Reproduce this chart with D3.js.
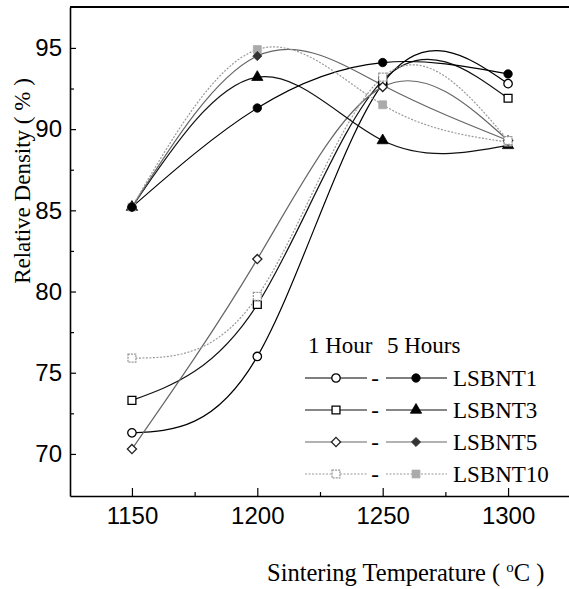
<!DOCTYPE html>
<html>
<head>
<meta charset="utf-8">
<script src="https://cdn.jsdelivr.net/npm/d3@7"></script>
<style>
  body { margin: 0; background: #fff; }
  svg { display: block; }
</style>
</head>
<body>
<div id="main"></div>
<script>
// ---------------- data -------------------------------------//

let temps = [1150, 1200, 1250, 1300];
let samples = ['LSBNT1', 'LSBNT3', 'LSBNT5', 'LSBNT10'];

// relative density (%) after 1 hour / 5 hours of sintering
let lsbnt1_1h = [71.3, 76.0, 92.8, 92.8];
let lsbnt1_5h = [85.2, 91.3, 94.1, 93.4];
let lsbnt3_1h = [73.3, 79.2, 93.0, 91.9];
let lsbnt3_5h = [85.2, 93.2, 89.3, 89.0];
let lsbnt5_1h = [70.3, 82.0, 92.6, 89.3];
let lsbnt5_5h = [85.2, 94.5, 92.7, 89.3];
let lsbnt10_1h = [75.9, 79.7, 93.2, 89.3];
let lsbnt10_5h = [85.2, 94.9, 91.5, 89.2];

let xTicks = [1150, 1200, 1250, 1300];
let xMinor = [1175, 1225, 1275];
let yTicks = [70, 75, 80, 85, 90, 95];
let yMinor = [72.5, 77.5, 82.5, 87.5, 92.5];

// ---------------- global formatting vars -----------------//

let width = 569;
let height = 589;
let tickFont = 'Arial, "Liberation Sans", sans-serif';
let textFont = '"Times New Roman", "Liberation Serif", serif';

let svg = d3.select('#main')
  .append('svg')
  .attr('width', width)
  .attr('height', height);

let x = d3.scaleLinear().domain([1125.3, 1324.7]).range([70, 570]);
let y = d3.scaleLinear().domain([67.41, 97.52]).range([496, 7]);

// per-sample styles
let styles = {
  LSBNT1: {line: '#000', dash: null, open: 'circle', filled: 'circle', mark: '#000', fill5: '#000'},
  LSBNT3: {line: '#111', dash: null, open: 'square', filled: 'triangle', mark: '#000', fill5: '#000'},
  LSBNT5: {line: '#666', dash: null, open: 'diamond', filled: 'diamond', mark: '#222', fill5: '#333'},
  LSBNT10: {line: '#9a9a9a', dash: '2,1.5', open: 'square', filled: 'square', mark: '#999', fill5: '#aaa'}
};

let series = [
  {name: 'LSBNT1', hours: 1, values: lsbnt1_1h},
  {name: 'LSBNT3', hours: 1, values: lsbnt3_1h},
  {name: 'LSBNT5', hours: 1, values: lsbnt5_1h},
  {name: 'LSBNT10', hours: 1, values: lsbnt10_1h},
  {name: 'LSBNT1', hours: 5, values: lsbnt1_5h},
  {name: 'LSBNT3', hours: 5, values: lsbnt3_5h},
  {name: 'LSBNT5', hours: 5, values: lsbnt5_5h},
  {name: 'LSBNT10', hours: 5, values: lsbnt10_5h}
];

function symbolPath(shape) {
  if (shape === 'circle') return d3.symbol(d3.symbolCircle, 56)();
  if (shape === 'square') return d3.symbol(d3.symbolSquare, 62)();
  if (shape === 'triangle') return d3.symbol(d3.symbolTriangle, 55)();
  return d3.symbol(d3.symbolSquare, 42)();
}

function drawMarker(g, d, cx, cy) {
  let st = styles[d.name];
  let shape = d.hours === 1 ? st.open : st.filled;
  g.append('path')
    .attr('d', symbolPath(shape))
    .attr('transform', `translate(${cx},${cy})` + (shape === 'diamond' ? ' rotate(45)' : ''))
    .attr('fill', d.hours === 1 ? '#fff' : st.fill5)
    .attr('stroke', d.hours === 1 ? st.mark : st.fill5)
    .attr('stroke-width', d.hours === 1 ? 1.3 : 0.8)
    .attr('stroke-dasharray', d.hours === 1 && d.name === 'LSBNT10' ? '2,1' : null);
}

// ------------------------- axes -------------------------//

let xAxis = svg.append('g')
  .attr('transform', `translate(0,${y.range()[0]})`)
  .call(d3.axisBottom(x).tickValues(xTicks).tickSize(-8).tickSizeOuter(0)
    .tickPadding(11).tickFormat(d3.format('d')));

let xMinorAxis = svg.append('g')
  .attr('transform', `translate(0,${y.range()[0]})`)
  .call(d3.axisBottom(x).tickValues(xMinor).tickSize(-4).tickSizeOuter(0).tickFormat(''));
xMinorAxis.select('.domain').remove();

let yAxis = svg.append('g')
  .attr('transform', `translate(${x.range()[0]},0)`)
  .call(d3.axisLeft(y).tickValues(yTicks).tickSize(-6).tickSizeOuter(0).tickPadding(8));

let yMinorAxis = svg.append('g')
  .attr('transform', `translate(${x.range()[0]},0)`)
  .call(d3.axisLeft(y).tickValues(yMinor).tickSize(-4).tickSizeOuter(0).tickFormat(''));
yMinorAxis.select('.domain').remove();

[xAxis, yAxis, xMinorAxis, yMinorAxis].forEach(function(g) {
  g.selectAll('.domain').attr('stroke-width', 1.6);
  g.selectAll('.tick line').attr('stroke-width', 1.2);
  g.selectAll('text')
    .attr('font-family', tickFont)
    .attr('font-size', 24)
    .attr('fill', '#000');
});

// top frame line
svg.append('line')
  .attr('x1', x.range()[0]).attr('x2', x.range()[1])
  .attr('y1', y.range()[1]).attr('y2', y.range()[1])
  .attr('stroke', '#000').attr('stroke-width', 1.8);

// axis titles
svg.append('text')
  .attr('transform', 'translate(30,181) rotate(-90)')
  .attr('text-anchor', 'middle')
  .attr('font-family', textFont)
  .attr('font-size', 23)
  .text('Relative Density ( % )');

let xTitle = svg.append('text')
  .attr('x', 267)
  .attr('y', 581)
  .attr('font-family', textFont)
  .attr('font-size', 24.5);
xTitle.append('tspan').text('Sintering Temperature ( ');
xTitle.append('tspan').attr('dy', -9).attr('font-size', 15).text('o');
xTitle.append('tspan').attr('dy', 9).text('C )');

// ------------------------- data -------------------------//

let line = d3.line()
  .x((d, i) => x(temps[i]))
  .y(d => y(d))
  .curve(d3.curveNatural);

svg.selectAll('.series')
  .data(series)
  .join('path')
  .attr('class', 'series')
  .attr('d', d => line(d.values))
  .attr('fill', 'none')
  .attr('stroke', d => styles[d.name].line)
  .attr('stroke-width', 1.2)
  .attr('stroke-dasharray', d => styles[d.name].dash);

// markers: 5 hour ones first (triangle at the bottom, circle on top),
// then the open 1 hour ones
let markerOrder = [series[5], series[7], series[6], series[4]].concat(series.slice(0, 4));
markerOrder.forEach(function(d) {
  let g = svg.append('g').attr('class', 'markers');
  d.values.forEach(function(v, i) {
    drawMarker(g, d, x(temps[i]), y(v));
  });
});

// ------------------------- legend -------------------------//

let legend = svg.append('g')
  .attr('font-family', textFont)
  .attr('font-size', 23);

legend.append('text').attr('x', 308).attr('y', 353).text('1 Hour');
legend.append('text').attr('x', 387).attr('y', 353).text('5 Hours');

samples.forEach(function(name, i) {
  let st = styles[name];
  let ry = 378 + i * 32;
  let row = legend.append('g');
  [[305, 367], [386, 447]].forEach(function(seg) {
    row.append('line')
      .attr('x1', seg[0]).attr('x2', seg[1])
      .attr('y1', ry).attr('y2', ry)
      .attr('stroke', st.line)
      .attr('stroke-width', 1.2)
      .attr('stroke-dasharray', st.dash);
  });
  drawMarker(row, {name: name, hours: 1}, 336, ry);
  drawMarker(row, {name: name, hours: 5}, 416, ry);
  row.append('text').attr('x', 375).attr('y', ry + 8)
    .attr('text-anchor', 'middle').text('-');
  row.append('text').attr('x', 453).attr('y', ry + 8).text(name);
});
</script>
</body>
</html>
